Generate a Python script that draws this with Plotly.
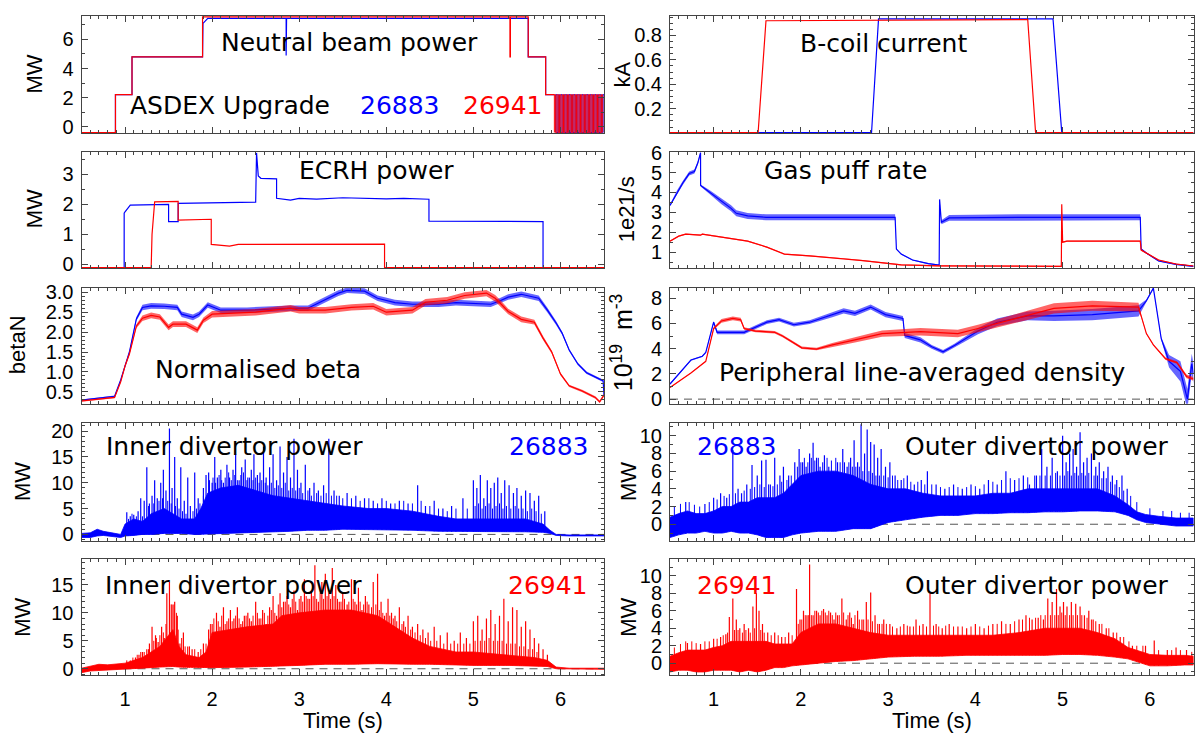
import numpy as np
import plotly.graph_objects as go

# ------------------------------------------------------------------
# Time base shared by all panels
# ------------------------------------------------------------------
TIME_RANGE = [0.5, 6.5]
TIME_TICKS = [1, 2, 3, 4, 5, 6]

BLUE = "#0000ff"   # shot 26883
RED = "#ff0000"    # shot 26941

# ------------------------------------------------------------------
# Neutral beam power (MW)
# ------------------------------------------------------------------
nbi_t_26883 = [0.5, 0.89, 0.89, 1.08, 1.08, 1.89, 1.895, 1.95, 2.85, 2.85,
               2.855, 2.855, 5.63, 5.63, 5.83, 5.83, 5.93]
nbi_p_26883 = [-0.4, -0.4, 2.2, 2.2, 4.8, 4.8, 7.1, 7.45, 7.45, 4.9,
               4.9, 7.45, 7.45, 4.8, 4.8, 2.2, 2.2]
nbi_t_26941 = [0.5, 0.89, 0.89, 1.08, 1.08, 1.89, 1.89, 5.42, 5.42, 5.425,
               5.425, 5.63, 5.63, 5.83, 5.83, 5.93]
nbi_p_26941 = [-0.4, -0.4, 2.2, 2.2, 4.8, 4.8, 7.55, 7.55, 4.8, 4.8,
               7.55, 7.55, 4.8, 4.8, 2.2, 2.2]
# beam modulation at the end of the discharge: switch-on times (s)
nbi_mod_on_26883 = [5.945, 5.975, 6.005, 6.035, 6.065, 6.095, 6.125, 6.155,
                    6.185, 6.215, 6.245, 6.275, 6.305, 6.335, 6.365, 6.395,
                    6.425, 6.455, 6.485]
nbi_mod_on_26941 = [5.93, 5.96, 5.99, 6.02, 6.05, 6.08, 6.11, 6.14, 6.17,
                    6.20, 6.23, 6.26, 6.29, 6.32, 6.35, 6.38, 6.41, 6.44, 6.47]
nbi_mod_width = 0.015
nbi_mod_levels = [-0.4, 2.2]

# ------------------------------------------------------------------
# B-coil current (kA)
# ------------------------------------------------------------------
bcoil_t_26883 = [0.5, 2.81, 2.89, 4.89, 4.99, 6.5]
bcoil_i_26883 = [0.005, 0.005, 0.935, 0.935, 0.005, 0.005]
bcoil_t_26941 = [0.5, 1.51, 1.60, 4.60, 4.69, 6.5]
bcoil_i_26941 = [0.005, 0.005, 0.92, 0.93, 0.005, 0.005]

# ------------------------------------------------------------------
# ECRH power (MW)
# ------------------------------------------------------------------
ecrh_t_26883 = [0.5, 0.99, 0.99, 1.0, 1.06, 1.5, 1.5, 1.61, 1.61, 2.48, 2.5,
                2.51, 2.53, 2.56, 2.74, 2.74, 2.9, 3.0, 3.2, 3.5, 3.8, 4.0,
                4.2, 4.49, 4.49, 5.8, 5.8, 6.5]
ecrh_p_26883 = [-0.12, -0.12, 1.7, 1.75, 1.97, 2.0, 1.42, 1.42, 2.03, 2.07,
                2.07, 3.72, 2.95, 2.87, 2.85, 2.2, 2.14, 2.2, 2.17, 2.22, 2.2,
                2.18, 2.2, 2.17, 1.44, 1.42, -0.12, -0.12]
ecrh_t_26941 = [0.5, 1.30, 1.31, 1.34, 1.61, 1.61, 1.99, 1.99, 2.2, 2.3,
                3.98, 3.98, 6.5]
ecrh_p_26941 = [-0.12, -0.12, 1.0, 2.08, 2.1, 1.47, 1.5, 0.66, 0.6, 0.66,
                0.67, -0.12, -0.12]

# ------------------------------------------------------------------
# Gas puff rate (1e21/s): value and noise half-width
# ------------------------------------------------------------------
gas_t_26883 = [0.5, 0.58, 0.65, 0.72, 0.78, 0.82, 0.85, 0.851, 0.96, 1.09,
               1.2, 1.26, 1.39, 1.6, 2.5, 3.08, 3.095, 3.15, 3.28, 3.46,
               3.585, 3.59, 3.61, 3.7, 4.5, 5.5, 5.89, 5.9, 5.96, 6.1, 6.3,
               6.5]
gas_r_26883 = [3.35, 4.0, 4.5, 4.95, 5.05, 5.5, 6.0, 4.35, 4.0, 3.55,
               3.2, 2.95, 2.82, 2.75, 2.75, 2.75, 1.15, 0.9, 0.6, 0.42,
               0.35, 3.65, 2.5, 2.72, 2.75, 2.75, 2.75, 1.15, 0.95, 0.55,
               0.38, 0.28]
gas_n_26883 = [0.05, 0.1, 0.1, 0.1, 0.1, 0.1, 0.05, 0.05, 0.1, 0.15,
               0.15, 0.15, 0.15, 0.15, 0.15, 0.15, 0.03, 0.03, 0.03, 0.03,
               0.02, 0.02, 0.1, 0.15, 0.15, 0.15, 0.15, 0.03, 0.03, 0.03,
               0.03, 0.03]
gas_t_26941 = [0.5, 0.6, 0.68, 0.85, 0.87, 1.1, 1.39, 1.61, 1.79, 1.81, 2.1,
               2.49, 2.71, 2.97, 3.15, 3.59, 4.985, 4.99, 5.0, 5.05, 5.89,
               5.9, 5.96, 6.1, 6.3, 6.5]
gas_r_26941 = [1.55, 1.8, 1.9, 1.85, 1.9, 1.75, 1.55, 1.25, 0.96, 0.9, 0.81,
               0.68, 0.57, 0.44, 0.36, 0.31, 0.28, 3.4, 1.5, 1.55, 1.55,
               1.1, 0.95, 0.6, 0.4, 0.3]
gas_n_26941 = [0.03] * len(gas_t_26941)

# ------------------------------------------------------------------
# Normalised beta
# ------------------------------------------------------------------
beta_t_26883 = [0.5, 0.88, 0.95, 1.0, 1.05, 1.13, 1.2, 1.3, 1.45, 1.6, 1.65,
                1.78, 1.85, 1.95, 2.1, 2.4, 2.7, 2.9, 3.1, 3.3, 3.45, 3.55,
                3.75, 3.9, 4.1, 4.3, 4.6, 4.8, 5.0, 5.2, 5.3, 5.4, 5.55,
                5.65, 5.75, 5.85, 5.95, 6.02, 6.1, 6.2, 6.3, 6.45, 6.49, 6.5]
beta_v_26883 = [0.29, 0.39, 0.8, 1.18, 1.5, 2.33, 2.62, 2.66, 2.65, 2.62,
                2.45, 2.37, 2.45, 2.68, 2.55, 2.55, 2.58, 2.6, 2.6, 2.82,
                2.98, 3.05, 3.03, 2.85, 2.74, 2.7, 2.7, 2.74, 2.72, 2.7,
                2.78, 2.88, 2.95, 2.9, 2.85, 2.55, 2.23, 1.97, 1.55, 1.2,
                0.98, 0.82, 0.78, 0.42]
beta_n_26883 = [0.02, 0.02, 0.02, 0.02, 0.03, 0.05, 0.07, 0.07, 0.07, 0.07,
                0.07, 0.07, 0.07, 0.07, 0.07, 0.07, 0.07, 0.07, 0.07, 0.07,
                0.07, 0.07, 0.07, 0.07, 0.07, 0.07, 0.07, 0.07, 0.07, 0.07,
                0.07, 0.07, 0.07, 0.07, 0.07, 0.06, 0.05, 0.04, 0.03, 0.03,
                0.03, 0.03, 0.03, 0.03]
beta_t_26941 = [0.5, 0.88, 0.95, 1.0, 1.05, 1.13, 1.2, 1.3, 1.4, 1.5, 1.55,
                1.7, 1.83, 1.9, 2.0, 2.5, 2.9, 3.0, 3.3, 3.6, 3.85, 4.0, 4.3,
                4.45, 4.7, 4.9, 5.15, 5.25, 5.32, 5.4, 5.55, 5.7, 5.8, 5.9,
                6.0, 6.1, 6.25, 6.4, 6.45, 6.5]
beta_v_26941 = [0.27, 0.36, 0.75, 1.15, 1.45, 2.15, 2.35, 2.42, 2.38, 2.12,
                2.2, 2.2, 2.05, 2.3, 2.45, 2.5, 2.6, 2.55, 2.55, 2.62, 2.65,
                2.5, 2.55, 2.75, 2.8, 2.92, 2.98, 2.85, 2.7, 2.52, 2.32,
                2.25, 1.85, 1.5, 0.95, 0.65, 0.52, 0.36, 0.25, 0.42]
beta_n_26941 = [0.02, 0.02, 0.02, 0.02, 0.03, 0.05, 0.07, 0.07, 0.07, 0.07,
                0.07, 0.07, 0.07, 0.07, 0.08, 0.08, 0.08, 0.08, 0.08, 0.08,
                0.08, 0.08, 0.08, 0.08, 0.08, 0.08, 0.08, 0.08, 0.08, 0.07,
                0.07, 0.06, 0.05, 0.04, 0.03, 0.03, 0.03, 0.03, 0.03, 0.03]

# ------------------------------------------------------------------
# Peripheral line-averaged density (1e19 m^-3)
# ------------------------------------------------------------------
dens_t_26883 = [0.5, 0.74, 0.87, 0.91, 1.0, 1.04, 1.35, 1.48, 1.61, 1.75,
                1.92, 2.1, 2.36, 2.49, 2.62, 2.8, 2.97, 3.17, 3.19, 3.37,
                3.5, 3.63, 3.76, 3.89, 4.03, 4.25, 4.6, 4.9, 5.34, 5.87,
                5.96, 6.04, 6.13, 6.22, 6.35, 6.43, 6.48, 6.5]
dens_v_26883 = [1.2, 3.1, 3.4, 3.7, 6.1, 5.3, 5.3, 5.7, 6.1, 6.3,
                5.9, 6.1, 6.7, 7.0, 6.8, 7.3, 6.7, 6.4, 5.05, 4.7,
                4.15, 3.75, 4.25, 4.8, 5.4, 6.1, 6.6, 6.6, 6.7, 7.0,
                7.8, 8.8, 4.8, 3.0, 2.2, 0.0, 2.8, 2.0]
dens_n_26883 = [0.05, 0.05, 0.05, 0.05, 0.1, 0.15, 0.15, 0.15, 0.15, 0.15,
                0.15, 0.15, 0.2, 0.2, 0.2, 0.2, 0.2, 0.2, 0.2, 0.2,
                0.15, 0.15, 0.15, 0.2, 0.25, 0.3, 0.35, 0.4, 0.45, 0.45,
                0.1, 0.05, 0.1, 0.5, 0.8, 0.8, 0.8, 0.8]
dens_t_26941 = [0.5, 0.74, 0.91, 1.0, 1.09, 1.22, 1.31, 1.35, 1.48, 1.7,
                1.79, 2.01, 2.18, 2.36, 2.62, 2.93, 3.37, 3.8, 4.03, 4.46,
                4.9, 5.34, 5.87, 5.9, 5.96, 6.04, 6.18, 6.31, 6.42, 6.5]
dens_v_26941 = [0.92, 2.08, 3.0, 5.6, 6.2, 6.4, 6.3, 5.6, 5.4, 5.3,
                5.0, 4.07, 3.97, 4.3, 4.7, 5.2, 5.35, 5.2, 5.6, 6.4,
                7.2, 7.4, 7.3, 6.6, 5.2, 4.3, 3.2, 2.9, 1.8, 1.6]
dens_n_26941 = [0.03, 0.03, 0.03, 0.1, 0.15, 0.15, 0.15, 0.1, 0.1, 0.1,
                0.1, 0.1, 0.1, 0.15, 0.2, 0.25, 0.3, 0.3, 0.3, 0.35,
                0.4, 0.4, 0.35, 0.1, 0.05, 0.05, 0.1, 0.1, 0.15, 0.15]

# ------------------------------------------------------------------
# Divertor power (MW): dense band (lower / upper envelope), large ELM
# spikes and the finer spikes that roughen the top of the band
# ------------------------------------------------------------------
# inner divertor, 26883
idiv_bt_26883 = [0.5, 0.6, 0.68, 0.75, 0.85, 0.95, 1.0, 1.1, 1.2, 1.3, 1.45,
                 1.55, 1.65, 1.8, 1.87, 1.95, 2.1, 2.3, 2.5, 2.7, 2.9, 3.1,
                 3.3, 3.5, 3.8, 4.0, 4.3, 4.6, 4.8, 5.0, 5.3, 5.6, 5.8, 5.88,
                 5.95, 6.1, 6.5]
idiv_lo_26883 = [-0.6, -0.6, -0.3, -0.2, -0.4, -0.6, -0.3, -0.2, 0.0, 0.0,
                 0.2, 0.2, 0.2, 0.0, 0.0, 0.1, 0.2, 0.3, 0.4, 0.5, 0.6, 0.8,
                 0.8, 1.0, 1.0, 0.9, 0.8, 0.6, 0.5, 0.5, 0.5, 0.5, 0.4, 0.2,
                 -0.2, -0.3, -0.3]
idiv_hi_26883 = [0.2, 0.3, 1.0, 0.6, 0.3, 0.0, 2.0, 3.0, 2.5, 4.0, 5.0, 4.0,
                 3.0, 3.0, 5.0, 8.0, 9.0, 9.5, 8.5, 7.5, 7.0, 6.5, 6.0, 5.5,
                 5.0, 5.0, 4.5, 3.5, 3.0, 3.0, 3.0, 3.0, 2.0, 0.8, 0.0, -0.1,
                 -0.1]
idiv_st_26883 = [1.02, 1.06, 1.1, 1.15, 1.18, 1.22, 1.25, 1.28, 1.31, 1.34,
                 1.37, 1.41, 1.44, 1.47, 1.51, 1.54, 1.57, 1.6, 1.64, 1.68,
                 1.72, 1.75, 1.8, 1.84, 1.9, 1.93, 1.96, 2.0, 2.03, 2.06, 2.1,
                 2.13, 2.17, 2.2, 2.24, 2.27, 2.31, 2.34, 2.38, 2.41, 2.45,
                 2.48, 2.52, 2.55, 2.59, 2.62, 2.66, 2.7, 2.74, 2.78, 2.82,
                 2.86, 2.9, 2.94, 2.98, 3.02, 3.07, 3.12, 3.17, 3.22, 3.28,
                 3.34, 3.4, 3.46, 3.55, 3.65, 3.75, 3.85, 3.95, 4.05, 4.15,
                 4.25, 4.36, 4.45, 4.55, 4.65, 4.75, 4.88, 5.0, 5.04, 5.08,
                 5.12, 5.16, 5.2, 5.24, 5.28, 5.32, 5.36, 5.41, 5.46, 5.5,
                 5.55, 5.6, 5.65, 5.7, 5.75, 5.82]
idiv_sv_26883 = [4.3, 3.5, 3.8, 4.5, 7.0, 6.5, 13.0, 6.0, 7.5, 10.5,
                 7.0, 10.0, 12.5, 8.5, 20.5, 9.0, 15.0, 7.0, 13.0, 6.5,
                 11.0, 5.5, 12.0, 7.0, 9.0, 11.5, 12.0, 10.0, 15.0, 11.0, 12.5,
                 10.0, 13.5, 11.0, 12.5, 15.5, 10.5, 13.0, 14.5, 11.0, 12.5,
                 15.5, 11.5, 12.0, 17.0, 11.0, 13.0, 15.5, 10.5, 17.0, 12.0,
                 15.0, 11.0, 18.5, 12.5, 10.0, 13.5, 9.0, 10.0, 8.5, 9.5,
                 18.5, 8.5, 7.5, 8.0, 7.5, 7.0, 6.5, 7.0, 6.0, 6.5,
                 6.0, 9.5, 5.5, 6.5, 5.0, 5.5, 7.0, 10.5, 9.0, 11.5,
                 7.0, 10.5, 9.0, 10.0, 11.0, 8.0, 10.5, 9.5, 8.0, 9.0,
                 7.5, 8.5, 8.0, 6.5, 7.5, 4.5]
idiv_ft_26883 = [1.04, 1.08, 1.13, 1.2, 1.27, 1.33, 1.39, 1.43, 1.49, 1.53,
                 1.58, 1.62, 1.66, 1.7, 1.78, 1.82, 1.86, 1.9, 1.97, 2.01,
                 2.04, 2.08, 2.11, 2.15, 2.19, 2.22, 2.26, 2.29, 2.33, 2.36,
                 2.4, 2.43, 2.47, 2.5, 2.54, 2.57, 2.61, 2.64, 2.68, 2.72,
                 2.76, 2.8, 2.84, 2.88, 2.92, 2.96, 3.0, 3.04, 3.1, 3.14,
                 3.2, 3.25, 3.31, 3.37, 3.43, 3.5, 3.6, 3.7, 3.8, 3.9,
                 4.0, 4.1, 4.2, 4.3, 4.4, 4.5, 4.6, 4.7, 4.8, 4.93,
                 5.02, 5.06, 5.1, 5.14, 5.18, 5.22, 5.26, 5.3, 5.34, 5.38,
                 5.43, 5.48, 5.52, 5.57, 5.62, 5.67, 5.72, 5.78]
idiv_fv_26883 = [3.0, 4.0, 3.5, 3.5, 5.5, 6.0, 6.5, 7.0, 6.5, 6.0,
                 5.5, 5.0, 4.5, 4.0, 4.5, 5.0, 6.0, 7.5, 10.5, 11.0,
                 10.0, 11.5, 10.5, 11.0, 12.0, 10.5, 11.5, 10.5, 11.5, 12.0,
                 10.5, 11.0, 10.5, 11.0, 10.0, 10.5, 10.0, 9.5, 10.0, 9.0,
                 9.5, 9.0, 10.0, 8.5, 9.0, 8.5, 9.0, 8.0, 8.5, 7.5,
                 8.0, 7.5, 8.0, 7.5, 7.5, 7.0, 7.0, 6.5, 7.0, 6.0,
                 6.5, 6.0, 6.5, 6.0, 6.5, 5.5, 5.0, 4.5, 5.0, 5.0,
                 5.5, 6.0, 5.0, 5.5, 6.0, 5.0, 5.5, 6.0, 5.0, 5.5,
                 5.0, 5.5, 5.0, 5.0, 4.5, 5.0, 4.5, 4.0]

# inner divertor, 26941
idiv_bt_26941 = [0.5, 0.6, 0.7, 0.8, 0.9, 1.0, 1.1, 1.2, 1.3, 1.4, 1.5, 1.55,
                 1.62, 1.7, 1.85, 1.93, 2.0, 2.4, 2.7, 2.8, 3.0, 3.3, 3.6, 3.9,
                 4.1, 4.3, 4.5, 4.8, 5.0, 5.4, 5.7, 5.85, 5.95, 6.1, 6.5]
idiv_lo_26941 = [-0.7, -0.4, -0.3, -0.2, -0.1, 0.0, 0.0, 0.1, 0.2, 0.3, 0.4,
                 0.4, 0.3, 0.2, 0.2, 0.2, 0.2, 0.3, 0.4, 0.5, 0.6, 0.8, 0.8,
                 0.9, 0.9, 0.8, 0.8, 0.7, 0.6, 0.6, 0.5, 0.4, 0.0, -0.1, -0.1]
idiv_hi_26941 = [0.1, 0.5, 0.8, 0.7, 0.8, 1.0, 1.5, 2.0, 3.0, 4.0, 6.0, 7.0,
                 4.0, 2.5, 2.0, 3.0, 6.5, 7.5, 8.0, 9.5, 10.0, 10.5, 10.5,
                 9.5, 7.5, 5.5, 4.0, 3.0, 3.0, 2.5, 2.0, 1.5, 0.3, 0.1, 0.1]
idiv_st_26941 = [1.12, 1.16, 1.2, 1.25, 1.28, 1.31, 1.35, 1.38, 1.42, 1.45,
                 1.48, 1.51, 1.54, 1.57, 1.6, 1.63, 1.67, 1.72, 1.77, 1.84,
                 1.9, 1.96, 2.0, 2.05, 2.09, 2.13, 2.17, 2.21, 2.25, 2.29,
                 2.33, 2.37, 2.41, 2.45, 2.5, 2.54, 2.58, 2.62, 2.66, 2.7,
                 2.74, 2.78, 2.82, 2.86, 2.9, 2.94, 2.98, 3.02, 3.06, 3.1,
                 3.14, 3.18, 3.22, 3.26, 3.3, 3.34, 3.38, 3.42, 3.46, 3.5,
                 3.55, 3.6, 3.64, 3.68, 3.72, 3.76, 3.8, 3.85, 3.9, 3.94,
                 3.98, 4.02, 4.06, 4.1, 4.15, 4.2, 4.25, 4.3, 4.36, 4.42,
                 4.48, 4.55, 4.62, 4.7, 4.78, 4.85, 4.92, 5.0, 5.05, 5.1,
                 5.15, 5.2, 5.25, 5.3, 5.35, 5.4, 5.45, 5.5, 5.55, 5.6,
                 5.65, 5.7, 5.75, 5.8, 5.85]
idiv_sv_26941 = [2.0, 2.5, 3.0, 3.5, 4.5, 7.5, 6.0, 4.8, 7.5, 5.5,
                 13.5, 15.5, 11.5, 12.0, 9.5, 4.5, 6.5, 4.0, 3.5, 3.0,
                 4.5, 7.0, 8.0, 10.0, 7.5, 11.0, 8.5, 10.5, 9.0, 11.0,
                 8.0, 9.5, 10.0, 8.5, 12.0, 9.0, 10.5, 8.0, 11.0, 13.0,
                 9.5, 13.5, 12.0, 13.0, 11.0, 14.0, 10.5, 13.0, 16.0, 12.5,
                 14.0, 18.5, 12.0, 15.5, 17.0, 13.5, 18.0, 15.0, 12.0, 13.5,
                 11.5, 16.0, 12.0, 14.5, 10.5, 13.0, 11.5, 15.5, 17.0, 12.0,
                 9.5, 12.5, 10.0, 9.5, 11.0, 8.5, 9.5, 7.5, 8.0, 7.0,
                 6.5, 7.5, 6.0, 6.5, 5.0, 6.5, 5.5, 8.5, 9.5, 7.0,
                 9.0, 10.5, 8.0, 9.5, 12.5, 8.5, 11.0, 10.5, 7.5, 8.5,
                 7.0, 5.5, 4.5, 3.5, 2.5]
idiv_ft_26941 = [1.02, 1.06, 1.09, 1.14, 1.18, 1.22, 1.27, 1.33, 1.36, 1.4,
                 1.44, 1.47, 1.53, 1.56, 1.59, 1.61, 1.65, 1.69, 1.74, 1.8,
                 1.87, 1.93, 1.98, 2.02, 2.07, 2.11, 2.15, 2.19, 2.23, 2.27,
                 2.31, 2.35, 2.39, 2.43, 2.47, 2.52, 2.56, 2.6, 2.64, 2.68,
                 2.72, 2.76, 2.8, 2.84, 2.88, 2.92, 2.96, 3.0, 3.04, 3.08,
                 3.12, 3.16, 3.2, 3.24, 3.28, 3.32, 3.36, 3.4, 3.44, 3.48,
                 3.52, 3.57, 3.62, 3.66, 3.7, 3.74, 3.78, 3.83, 3.88, 3.92,
                 3.96, 4.0, 4.04, 4.08, 4.12, 4.18, 4.22, 4.28, 4.33, 4.39,
                 4.45, 4.51, 4.58, 4.66, 4.74, 4.82, 4.89, 4.96, 5.02, 5.08,
                 5.13, 5.18, 5.23, 5.28, 5.33, 5.38, 5.43, 5.48, 5.53, 5.58,
                 5.63, 5.68, 5.73]
idiv_fv_26941 = [1.5, 1.5, 2.0, 2.5, 3.0, 3.0, 3.5, 5.0, 5.5, 6.0,
                 6.5, 8.0, 11.5, 11.5, 10.0, 7.0, 5.5, 4.0, 4.0, 3.5,
                 3.5, 4.5, 8.0, 9.0, 8.5, 9.5, 8.0, 9.0, 8.5, 9.5,
                 9.0, 8.5, 9.5, 9.0, 9.5, 10.0, 9.0, 10.0, 9.5, 10.5,
                 10.0, 11.5, 11.0, 12.0, 11.5, 12.5, 12.0, 12.5, 12.0, 13.0,
                 12.5, 13.0, 12.5, 13.5, 12.5, 13.0, 12.5, 13.0, 12.5, 12.0,
                 12.5, 12.0, 12.5, 11.5, 12.0, 11.5, 12.0, 11.0, 11.5, 10.5,
                 10.0, 10.0, 9.5, 9.0, 8.5, 8.0, 7.5, 7.0, 6.5, 6.0,
                 5.5, 5.0, 5.0, 4.5, 4.5, 4.5, 4.5, 4.5, 5.0, 5.0,
                 5.0, 5.5, 5.0, 5.0, 5.0, 4.5, 4.5, 4.5, 4.0, 4.0,
                 3.5, 3.5, 3.0]

# outer divertor, 26883
odiv_bt_26883 = [0.5, 0.6, 0.7, 0.8, 0.9, 1.0, 1.1, 1.2, 1.3, 1.4, 1.5, 1.6,
                 1.7, 1.8, 1.9, 2.0, 2.2, 2.4, 2.6, 2.8, 3.0, 3.2, 3.4, 3.6,
                 3.8, 4.0, 4.2, 4.4, 4.6, 4.8, 5.0, 5.2, 5.4, 5.6, 5.75, 5.85,
                 5.95, 6.1, 6.3, 6.5]
odiv_lo_26883 = [-1.5, -1.2, -1.0, -1.0, -0.8, -1.0, -1.0, -0.8, -1.0, -1.0,
                 -1.2, -1.5, -1.5, -1.5, -1.2, -1.0, -0.8, -0.8, -0.5, -0.5,
                 0.2, 0.5, 0.8, 1.0, 1.0, 1.2, 1.2, 1.3, 1.3, 1.4, 1.4, 1.5,
                 1.5, 1.4, 1.0, 0.5, 0.2, 0.0, -0.2, -0.2]
odiv_hi_26883 = [0.8, 1.2, 1.5, 1.2, 1.2, 1.5, 2.0, 2.0, 2.5, 2.5, 3.0, 3.0,
                 3.0, 3.5, 4.5, 5.5, 6.0, 6.0, 5.5, 4.5, 4.0, 4.0, 3.5, 3.2,
                 3.2, 3.2, 3.5, 3.5, 4.0, 4.0, 4.0, 4.0, 4.0, 3.2, 2.2, 1.4,
                 1.1, 0.9, 0.7, 0.7]
odiv_st_26883 = [0.68, 0.9, 1.0, 1.08, 1.15, 1.22, 1.28, 1.32, 1.38, 1.44,
                 1.5, 1.55, 1.6, 1.65, 1.7, 1.76, 1.8, 1.86, 1.93, 1.98,
                 2.02, 2.06, 2.1, 2.14, 2.18, 2.22, 2.27, 2.32, 2.37, 2.42,
                 2.48, 2.53, 2.57, 2.61, 2.65, 2.69, 2.73, 2.76, 2.8, 2.84,
                 2.88, 2.92, 2.97, 3.02, 3.08, 3.15, 3.22, 3.3, 3.38, 3.45,
                 3.55, 3.65, 3.75, 3.85, 3.95, 4.05, 4.15, 4.25, 4.35, 4.45,
                 4.55, 4.62, 4.7, 4.76, 4.82, 4.88, 4.94, 5.0, 5.04, 5.08,
                 5.12, 5.16, 5.2, 5.24, 5.28, 5.33, 5.38, 5.42, 5.47, 5.52,
                 5.57, 5.62, 5.68, 5.74]
odiv_sv_26883 = [2.5, 2.3, 3.0, 3.5, 3.0, 8.4, 4.0, 3.5, 4.5, 6.7,
                 5.5, 7.2, 7.3, 4.5, 7.5, 5.5, 6.5, 5.5, 7.0, 8.5,
                 7.0, 6.5, 8.0, 9.2, 7.5, 6.5, 7.8, 6.5, 6.0, 7.0,
                 8.5, 6.5, 7.5, 9.5, 7.0, 11.3, 8.0, 10.7, 9.3, 9.0,
                 7.5, 8.5, 6.5, 7.0, 5.5, 5.0, 5.5, 4.5, 5.0, 6.0,
                 4.5, 4.0, 4.5, 4.0, 4.5, 4.0, 5.0, 4.5, 6.0, 5.0,
                 5.5, 4.5, 5.5, 8.5, 6.5, 7.5, 6.0, 10.0, 7.0, 8.0,
                 8.5, 6.5, 10.4, 7.0, 7.5, 8.0, 6.5, 7.0, 6.0, 6.5,
                 5.5, 5.0, 5.5, 4.0]
odiv_ft_26883 = [0.55, 0.62, 0.72, 0.78, 0.84, 0.95, 1.04, 1.12, 1.18, 1.25,
                 1.35, 1.42, 1.47, 1.53, 1.58, 1.63, 1.68, 1.73, 1.78, 1.84,
                 1.89, 1.96, 2.0, 2.04, 2.08, 2.12, 2.16, 2.2, 2.25, 2.3,
                 2.35, 2.4, 2.45, 2.5, 2.55, 2.59, 2.63, 2.67, 2.71, 2.78,
                 2.82, 2.86, 2.9, 2.95, 3.0, 3.05, 3.11, 3.18, 3.26, 3.34,
                 3.42, 3.5, 3.6, 3.7, 3.8, 3.9, 4.0, 4.1, 4.2, 4.3,
                 4.4, 4.5, 4.6, 4.68, 4.74, 4.8, 4.86, 4.92, 4.97, 5.02,
                 5.06, 5.1, 5.14, 5.18, 5.22, 5.26, 5.3, 5.36, 5.4, 5.45,
                 5.5, 5.55, 5.6, 5.65, 5.7, 5.78, 5.85, 6.0, 6.15, 6.25,
                 6.35, 6.45]
odiv_fv_26883 = [2.0, 2.3, 2.5, 2.2, 2.0, 2.5, 2.8, 3.2, 3.4, 3.5,
                 3.8, 4.0, 4.2, 4.5, 4.2, 4.5, 4.3, 4.5, 4.8, 5.0,
                 5.5, 6.5, 7.0, 7.5, 7.0, 7.5, 7.2, 7.5, 7.0, 7.5,
                 7.2, 7.5, 7.0, 7.0, 7.0, 6.5, 6.5, 6.5, 6.0, 6.0,
                 5.8, 5.5, 5.5, 5.5, 5.3, 5.5, 5.0, 5.2, 4.8, 4.8,
                 4.5, 4.5, 4.2, 4.2, 4.2, 4.2, 4.3, 4.5, 4.8, 5.0,
                 5.2, 5.2, 5.3, 5.5, 5.5, 5.5, 5.5, 5.8, 5.5, 5.5,
                 6.0, 5.5, 5.8, 5.5, 5.8, 5.5, 5.8, 5.5, 5.5, 5.2,
                 5.2, 4.8, 4.5, 4.2, 3.8, 3.2, 2.5, 1.8, 1.5, 1.5,
                 1.3, 1.3]

# outer divertor, 26941
odiv_bt_26941 = [0.5, 0.6, 0.7, 0.8, 0.9, 1.0, 1.1, 1.2, 1.3, 1.4, 1.5, 1.6,
                 1.7, 1.8, 1.9, 2.0, 2.2, 2.4, 2.6, 2.8, 3.0, 3.3, 3.6, 3.9,
                 4.2, 4.5, 4.8, 5.0, 5.2, 5.4, 5.6, 5.75, 5.9, 6.0, 6.2, 6.4,
                 6.5]
odiv_lo_26941 = [-1.0, -0.8, -0.8, -1.0, -1.0, -0.8, -0.8, -0.8, -1.0, -0.8,
                 -1.0, -0.8, -0.5, -0.5, -0.3, -0.2, 0.0, 0.2, 0.3, 0.5, 0.7,
                 0.8, 0.8, 0.9, 0.9, 0.9, 0.9, 1.0, 1.0, 0.9, 0.7, 0.5, 0.0,
                 -0.3, -0.3, -0.2, -0.2]
odiv_hi_26941 = [0.8, 1.2, 1.5, 1.5, 1.5, 1.8, 2.0, 2.5, 2.5, 2.5, 2.5, 2.5,
                 2.2, 2.2, 2.2, 3.5, 4.5, 4.5, 4.0, 3.5, 3.2, 3.2, 3.2, 3.2,
                 3.2, 3.5, 4.0, 4.0, 4.0, 3.5, 2.8, 1.8, 1.3, 1.0, 0.9, 0.9,
                 0.8]
odiv_st_26941 = [0.7, 0.85, 1.0, 1.08, 1.14, 1.18, 1.22, 1.26, 1.3, 1.35,
                 1.4, 1.45, 1.49, 1.52, 1.56, 1.62, 1.7, 1.78, 1.86, 1.95,
                 1.99, 2.03, 2.07, 2.1, 2.14, 2.18, 2.22, 2.26, 2.3, 2.34,
                 2.38, 2.42, 2.47, 2.52, 2.56, 2.6, 2.65, 2.7, 2.75, 2.8,
                 2.85, 2.9, 2.95, 3.02, 3.1, 3.18, 3.25, 3.32, 3.4, 3.48,
                 3.55, 3.62, 3.7, 3.8, 3.9, 4.0, 4.1, 4.2, 4.3, 4.4,
                 4.5, 4.58, 4.65, 4.72, 4.78, 4.83, 4.88, 4.93, 4.97, 5.01,
                 5.05, 5.1, 5.15, 5.2, 5.25, 5.3, 5.35, 5.42, 5.5, 5.58,
                 5.66, 5.8, 5.95, 6.05, 6.2, 6.3, 6.42]
odiv_sv_26941 = [2.3, 2.2, 2.8, 3.0, 3.3, 5.3, 7.4, 5.0, 4.0, 4.5,
                 4.0, 6.5, 8.0, 6.0, 4.5, 3.5, 3.5, 3.0, 3.5, 8.5,
                 5.0, 6.0, 5.5, 11.3, 5.5, 6.0, 5.5, 6.2, 5.5, 5.8,
                 5.0, 5.5, 7.4, 5.0, 5.8, 4.5, 6.0, 5.0, 7.0, 8.1,
                 5.5, 4.5, 5.0, 4.5, 4.0, 4.5, 4.2, 5.0, 4.5, 8.0,
                 4.5, 4.0, 4.5, 4.2, 4.0, 4.5, 4.0, 4.5, 4.8, 4.5,
                 5.0, 5.5, 5.0, 5.2, 5.0, 7.4, 7.0, 8.5, 6.5, 7.0,
                 6.5, 7.0, 6.8, 6.5, 5.5, 6.0, 5.0, 4.5, 4.0, 3.5,
                 3.0, 2.0, 2.0, 2.6, 1.5, 1.8, 1.5]
odiv_ft_26941 = [0.55, 0.62, 0.68, 0.75, 0.8, 0.9, 0.95, 1.04, 1.11, 1.16,
                 1.24, 1.28, 1.33, 1.37, 1.42, 1.47, 1.54, 1.58, 1.66, 1.74,
                 1.82, 1.9, 1.97, 2.01, 2.05, 2.09, 2.12, 2.16, 2.2, 2.24,
                 2.28, 2.32, 2.36, 2.4, 2.44, 2.49, 2.54, 2.58, 2.62, 2.67,
                 2.72, 2.77, 2.82, 2.88, 2.93, 2.98, 3.05, 3.14, 3.22, 3.29,
                 3.36, 3.44, 3.52, 3.58, 3.66, 3.75, 3.85, 3.95, 4.05, 4.15,
                 4.25, 4.35, 4.45, 4.54, 4.62, 4.69, 4.75, 4.8, 4.86, 4.91,
                 4.95, 4.99, 5.03, 5.08, 5.12, 5.17, 5.22, 5.28, 5.33, 5.38,
                 5.45, 5.53, 5.62, 5.7, 5.76, 5.85, 5.92, 6.1, 6.25, 6.35,
                 6.48]
odiv_fv_26941 = [1.8, 2.2, 2.5, 2.5, 2.3, 2.5, 2.5, 2.8, 3.2, 3.5,
                 3.8, 3.8, 3.5, 3.8, 3.5, 4.0, 3.8, 3.5, 3.2, 3.2,
                 3.0, 3.2, 4.5, 5.0, 5.5, 5.5, 5.5, 6.0, 5.8, 6.0,
                 5.8, 6.0, 5.5, 5.8, 5.5, 5.8, 5.5, 5.2, 5.5, 5.0,
                 5.0, 5.0, 4.8, 4.5, 4.5, 4.5, 4.2, 4.2, 4.3, 4.2,
                 4.3, 4.2, 4.3, 4.2, 4.3, 4.2, 4.2, 4.2, 4.2, 4.3,
                 4.5, 4.5, 4.8, 5.0, 5.2, 5.2, 5.5, 5.5, 5.5, 5.5,
                 5.5, 5.8, 5.5, 5.5, 5.5, 5.5, 5.5, 5.2, 5.0, 4.8,
                 4.5, 4.0, 3.5, 3.0, 2.5, 2.0, 2.0, 1.5, 1.5, 1.5,
                 1.3]

# ------------------------------------------------------------------
# Panel geometry (pixels of the 1195 x 745 page)
# ------------------------------------------------------------------
W, H = 1195, 745
COLS = [(81.5, 604.0), (670.0, 1193.5)]
ROWS = [(6, 126), (145, 264), (284, 403), (423, 543), (562, 681)]

FRAME = "#444444"
TICK_FONT = dict(family="Liberation Sans, Arial, sans-serif", size=20, color="black")
TITLE_FONT = dict(family="Liberation Sans, Arial, sans-serif", size=22, color="black")
LABEL_FAMILY = "DejaVu Sans, sans-serif"


def px(x):
    return x / W


def py(y):
    return 1 - y / H


def axref(k):
    return ("x", "y") if k == 1 else (f"x{k}", f"y{k}")


def color_rgba(color, alpha):
    r, g, b = int(color[1:3], 16), int(color[3:5], 16), int(color[5:7], 16)
    return f"rgba({r},{g},{b},{alpha})"


fig = go.Figure()


def add_line(k, t, v, color, width=1.2):
    xa, ya = axref(k)
    fig.add_trace(go.Scatter(x=t, y=v, mode="lines", xaxis=xa, yaxis=ya,
                             line=dict(color=color, width=width),
                             hoverinfo="skip", showlegend=False))


def add_noisy(k, t, v, n, color, alpha):
    """Signal line with a translucent band showing its noise amplitude."""
    xa, ya = axref(k)
    t = np.asarray(t, float)
    v = np.asarray(v, float)
    n = np.asarray(n, float)
    fig.add_trace(go.Scatter(x=np.concatenate([t, t[::-1]]),
                             y=np.concatenate([v + n, (v - n)[::-1]]),
                             mode="lines", fill="toself",
                             fillcolor=color_rgba(color, alpha),
                             line=dict(width=0), xaxis=xa, yaxis=ya,
                             hoverinfo="skip", showlegend=False))
    add_line(k, t, v, color)


def add_spikes(k, st, sv, bt, lo, color, width):
    xa, ya = axref(k)
    foot = np.interp(st, bt, lo)
    xs, ys = [], []
    for t, f, v in zip(st, foot, sv):
        xs += [t, t, None]
        ys += [f, v, None]
    fig.add_trace(go.Scatter(x=xs, y=ys, mode="lines", xaxis=xa, yaxis=ya,
                             line=dict(color=color, width=width),
                             hoverinfo="skip", showlegend=False))


def add_spiky(k, bt, lo, hi, st, sv, ft, fv, color):
    """Divertor power: dense band plus fine and large ELM spikes."""
    xa, ya = axref(k)
    bt = np.asarray(bt, float)
    lo = np.asarray(lo, float)
    hi = np.asarray(hi, float)
    fig.add_trace(go.Scatter(x=np.concatenate([bt, bt[::-1]]),
                             y=np.concatenate([hi, lo[::-1]]),
                             mode="lines", fill="toself", fillcolor=color,
                             line=dict(width=0.8, color=color),
                             xaxis=xa, yaxis=ya, hoverinfo="skip",
                             showlegend=False))
    add_spikes(k, ft, fv, bt, lo, color, 1.0)
    add_spikes(k, st, sv, bt, lo, color, 1.2)


def add_zero(k):
    xa, ya = axref(k)
    fig.add_trace(go.Scatter(x=TIME_RANGE, y=[0, 0], mode="lines",
                             xaxis=xa, yaxis=ya,
                             line=dict(color="#555555", width=1, dash="8px,6px"),
                             hoverinfo="skip", showlegend=False))


def add_modulation(k, on_times, width, levels, color):
    xs, ys = [], []
    for t in on_times:
        xs += [t, t, t + width, t + width]
        ys += [levels[0], levels[1], levels[1], levels[0]]
    add_line(k, xs, ys, color, width=1.0)


# ---- row 1 ----
add_line(1, nbi_t_26883, nbi_p_26883, BLUE)
add_modulation(1, nbi_mod_on_26883, nbi_mod_width, nbi_mod_levels, BLUE)
add_line(1, nbi_t_26941, nbi_p_26941, RED)
add_modulation(1, nbi_mod_on_26941, nbi_mod_width, nbi_mod_levels, RED)

add_line(2, bcoil_t_26883, bcoil_i_26883, BLUE)
add_line(2, bcoil_t_26941, bcoil_i_26941, RED)

# ---- row 2 ----
add_line(3, ecrh_t_26883, ecrh_p_26883, BLUE)
add_line(3, ecrh_t_26941, ecrh_p_26941, RED)

add_noisy(4, gas_t_26883, gas_r_26883, gas_n_26883, BLUE, 0.6)
add_noisy(4, gas_t_26941, gas_r_26941, gas_n_26941, RED, 0.6)

# ---- row 3 ----
add_noisy(5, beta_t_26883, beta_v_26883, beta_n_26883, BLUE, 0.6)
add_noisy(5, beta_t_26941, beta_v_26941, beta_n_26941, RED, 0.6)

add_zero(6)
add_noisy(6, dens_t_26883, dens_v_26883, dens_n_26883, BLUE, 0.6)
add_noisy(6, dens_t_26941, dens_v_26941, dens_n_26941, RED, 0.6)

# ---- rows 4 and 5: divertor power ----
add_zero(7)
add_spiky(7, idiv_bt_26883, idiv_lo_26883, idiv_hi_26883,
          idiv_st_26883, idiv_sv_26883, idiv_ft_26883, idiv_fv_26883, BLUE)
add_zero(8)
add_spiky(8, odiv_bt_26883, odiv_lo_26883, odiv_hi_26883,
          odiv_st_26883, odiv_sv_26883, odiv_ft_26883, odiv_fv_26883, BLUE)
add_zero(9)
add_spiky(9, idiv_bt_26941, idiv_lo_26941, idiv_hi_26941,
          idiv_st_26941, idiv_sv_26941, idiv_ft_26941, idiv_fv_26941, RED)
add_zero(10)
add_spiky(10, odiv_bt_26941, odiv_lo_26941, odiv_hi_26941,
          odiv_st_26941, odiv_sv_26941, odiv_ft_26941, odiv_fv_26941, RED)

# ------------------------------------------------------------------
# Axes
# ------------------------------------------------------------------
y_axes = {
    1: dict(range=[-0.44, 7.62], tickvals=[0, 2, 4, 6], minor=1.0),
    2: dict(range=[0.0, 0.96], tickvals=[0.2, 0.4, 0.6, 0.8], minor=0.05),
    3: dict(range=[-0.13, 3.76], tickvals=[0, 1, 2, 3], minor=0.5),
    4: dict(range=[0.2, 6.05], tickvals=[1, 2, 3, 4, 5, 6], minor=0.5),
    5: dict(range=[0.2, 3.12], tickvals=[0.5, 1.0, 1.5, 2.0, 2.5, 3.0], minor=0.1),
    6: dict(range=[-0.37, 8.85], tickvals=[0, 2, 4, 6, 8], minor=1.0),
    7: dict(range=[-1.2, 21.5], tickvals=[0, 5, 10, 15, 20], minor=1.0),
    8: dict(range=[-1.85, 11.4], tickvals=[0, 2, 4, 6, 8, 10], minor=1.0),
    9: dict(range=[-1.2, 19.6], tickvals=[0, 5, 10, 15], minor=1.0),
    10: dict(range=[-1.4, 11.9], tickvals=[0, 2, 4, 6, 8, 10], minor=1.0),
}

layout = dict(width=W, height=H, margin=dict(l=0, r=0, t=0, b=0),
              paper_bgcolor="white", plot_bgcolor="white", showlegend=False)

for k in range(1, 11):
    r = (k - 1) // 2
    c = (k - 1) % 2
    x0, x1 = COLS[c]
    y0, y1 = ROWS[r]
    xname = "xaxis" if k == 1 else f"xaxis{k}"
    yname = "yaxis" if k == 1 else f"yaxis{k}"
    xa, ya = axref(k)
    bottom = r == 4
    layout[xname] = dict(
        domain=[px(x0), px(x1)], anchor=ya, range=TIME_RANGE,
        tickvals=TIME_TICKS, showticklabels=bottom, tickfont=TICK_FONT,
        ticks="inside", ticklen=6, tickcolor=FRAME, tickwidth=1,
        minor=dict(dtick=0.1, tick0=0, ticks="inside", ticklen=3,
                   tickcolor=FRAME, tickwidth=1),
        showline=True, linecolor=FRAME, linewidth=1, mirror="allticks",
        showgrid=False, zeroline=False, ticklabelstandoff=6,
    )
    spec = y_axes[k]
    yax = dict(
        domain=[py(y1), py(y0)], anchor=xa, range=spec["range"],
        tickvals=spec["tickvals"], tickfont=TICK_FONT,
        ticks="inside", ticklen=6, tickcolor=FRAME, tickwidth=1,
        minor=dict(dtick=spec["minor"], tick0=0, ticks="inside", ticklen=3,
                   tickcolor=FRAME, tickwidth=1),
        showline=True, linecolor=FRAME, linewidth=1, mirror="allticks",
        showgrid=False, zeroline=False, ticklabelstandoff=3,
    )
    if k in (2, 5):
        yax["tickformat"] = ".1f"
    layout[yname] = yax

fig.update_layout(**layout)

# ------------------------------------------------------------------
# Text
# ------------------------------------------------------------------
annotations = []


def label(text, x, baseline, anchor="left", color="black", size=25,
          family=LABEL_FAMILY):
    annotations.append(dict(
        text=text, x=px(x), y=py(baseline - 0.36 * size), xref="paper",
        yref="paper", xanchor=anchor, yanchor="middle", showarrow=False,
        font=dict(family=family, size=size, color=color)))


def vtitle(text, x, y, size=22):
    annotations.append(dict(
        text=text, x=px(x), y=py(y), xref="paper", yref="paper",
        xanchor="center", yanchor="middle", textangle=-90, showarrow=False,
        font=dict(TITLE_FONT, size=size)))


label("Neutral beam power", 219, 42)
label("ASDEX Upgrade", 128, 107)
label("26883", 358, 107, color=BLUE)
label("26941", 461, 107, color=RED)
label("ECRH power", 297, 173)
label("B-coil current", 798, 43)
label("Gas puff rate", 762, 173)
label("Normalised beta", 153, 377)
label("Peripheral line-averaged density", 717, 380)
label("Inner divertor power", 104, 456)
label("26883", 591, 456, anchor="right", color=BLUE)
label("Outer divertor power", 1171, 456, anchor="right")
label("26883", 695, 456, color=BLUE)
label("Inner divertor power", 103, 598)
label("26941", 590, 598, anchor="right", color=RED)
label("Outer divertor power", 1171, 598, anchor="right")
label("26941", 695, 598, color=RED)

vtitle("MW", 34, 66)
vtitle("MW", 34, 204)
vtitle("betaN", 17, 343)
vtitle("MW", 23, 483)
vtitle("MW", 23, 622)
vtitle("kA", 622, 66)
vtitle("1e21/s", 626, 204)
vtitle("10<sup>19</sup>  m<sup>-3</sup>", 622, 340, size=25)
vtitle("MW", 629, 483)
vtitle("MW", 629, 622)

for xc in ((COLS[0][0] + COLS[0][1]) / 2, (COLS[1][0] + COLS[1][1]) / 2):
    annotations.append(dict(
        text="Time (s)", x=px(xc), y=py(727), xref="paper", yref="paper",
        xanchor="center", yanchor="middle", showarrow=False, font=TITLE_FONT))

fig.update_layout(annotations=annotations)

fig.write_html("out.html")
